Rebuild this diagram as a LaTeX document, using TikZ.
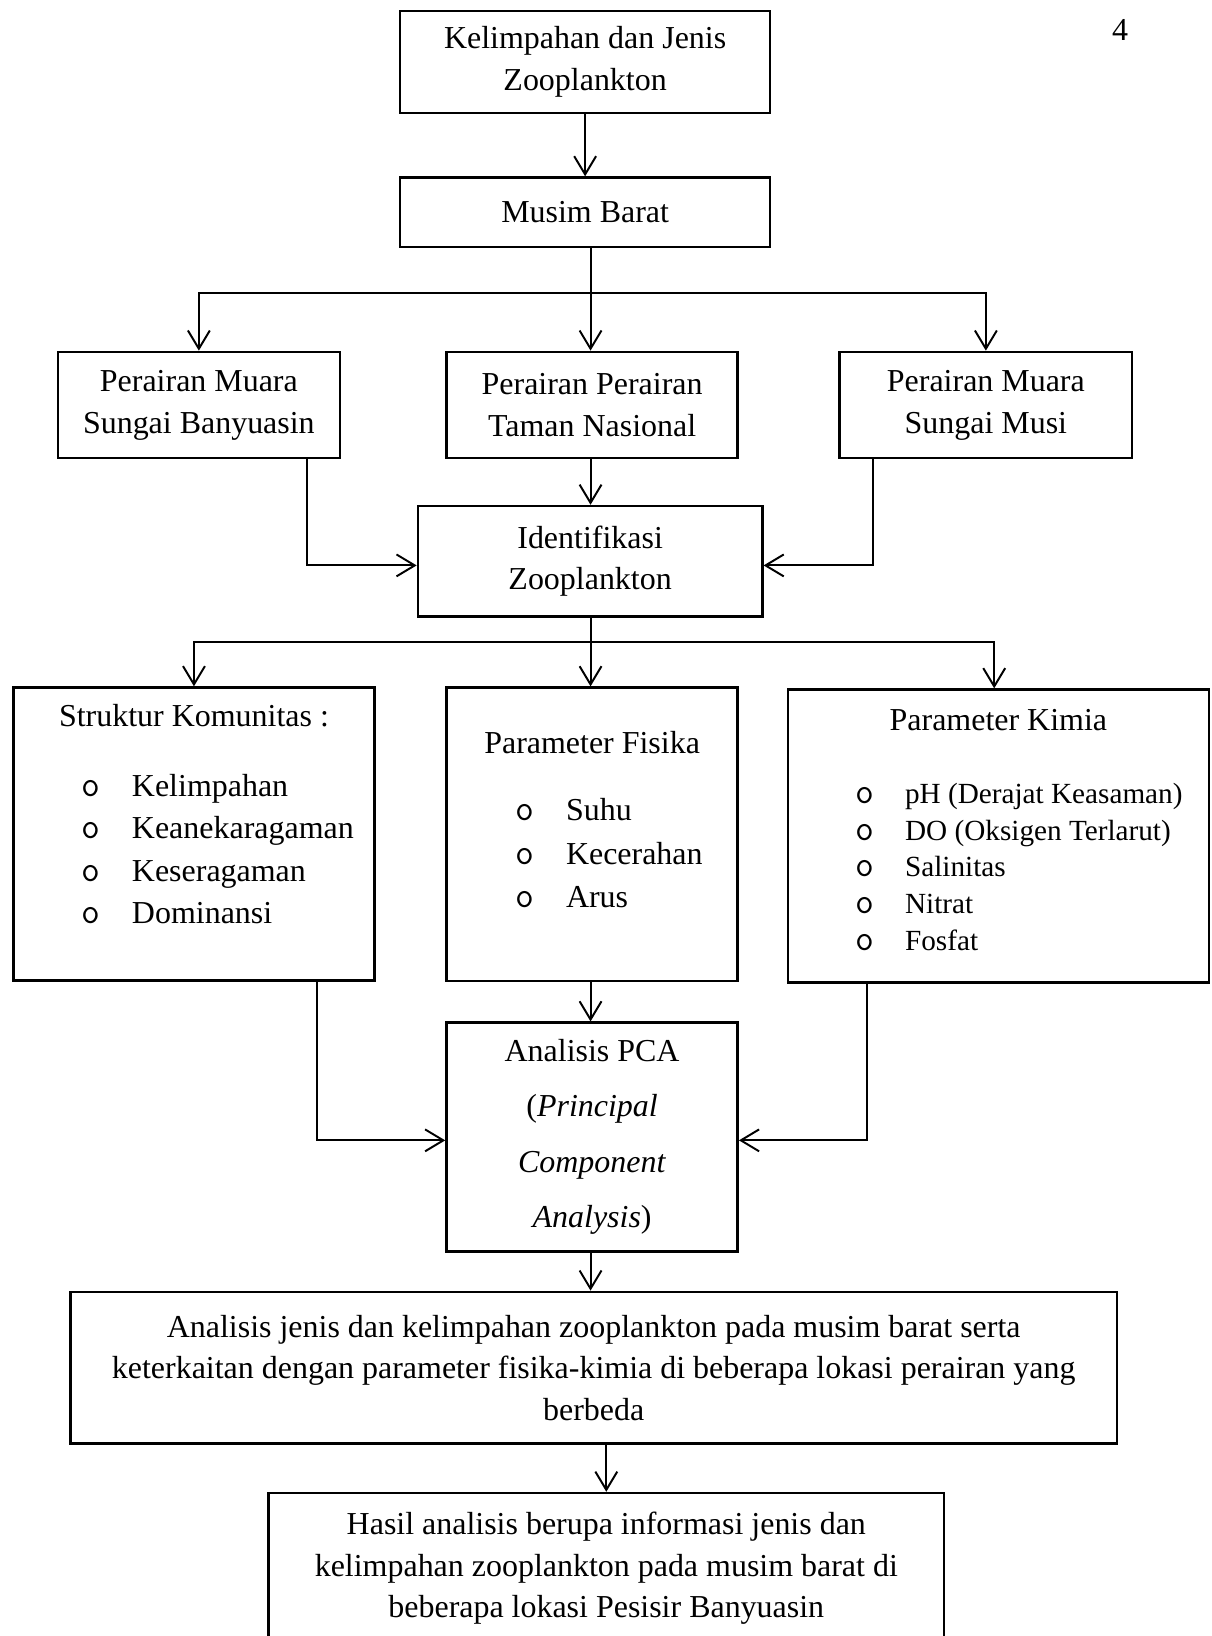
\documentclass[tikz,border=0pt]{standalone}
\usepackage{fontspec}
\setmainfont{Liberation Serif}
\usepackage{tikz}
\usetikzlibrary{arrows.meta}
\newcommand{\bul}{\makebox[19.2pt][l]{\ttfamily\fontsize{14}{14}\selectfont o}}

\begin{document}
\begin{tikzpicture}[x=0.4pt,y=-0.4pt,
        box/.style={draw,line width=1pt,inner sep=0pt,align=center,font=\fontsize{12.25}{16}\selectfont},
        txt/.style={inner sep=0pt,font=\fontsize{12.25}{16}\selectfont},
        lst/.style={inner sep=0pt,anchor=base west},
        conn/.style={line width=0.75pt},
        arr/.style={line width=0.75pt,-{Straight Barb[length=7pt,width=8.4pt]}}]
        \useasboundingbox (0,0) rectangle (1161,1568);
        \node[box,minimum width=141.8pt,minimum height=39.1pt] (b1) at (560.8,59.5) {Kelimpahan dan Jenis\\Zooplankton};
        \node[box,minimum width=141.8pt,minimum height=26.6pt] (b2) at (560.8,203.5) {Musim Barat};
        \node[box,minimum width=108.1pt,minimum height=40.7pt] (b3a) at (190.6,388.2) {Perairan Muara\\Sungai Banyuasin};
        \node[box,minimum width=111.6pt,minimum height=40.7pt] (b3b) at (567.5,388.2) {Perairan Perairan\\Taman Nasional};
        \node[box,minimum width=112.1pt,minimum height=40.7pt] (b3c) at (944.9,388.2) {Perairan Muara\\Sungai Musi};
        \node[box,minimum width=132pt,minimum height=42.3pt] (b4) at (565.6,537.9) {Identifikasi\\Zooplankton};
        \node[box,minimum width=138.5pt,minimum height=112.4pt] (b5a) at (185.9,799.5) {};
        \node[box,minimum width=111.6pt,minimum height=112.5pt] (b5b) at (567.5,799.7) {};
        \node[box,minimum width=161.4pt,minimum height=112.2pt] (b5c) at (956.9,801.2) {};
        \node[box,minimum width=111.6pt,minimum height=87.6pt,font=\fontsize{12.25}{21.2}\selectfont] (b6) at (567.5,1089.7) {Analisis PCA\\(\textit{Principal}\\\textit{Component}\\\textit{Analysis})};
        \node[box,minimum width=401.2pt,minimum height=58.2pt] (b7) at (569,1311) {Analisis jenis dan kelimpahan zooplankton pada musim barat serta\\keterkaitan dengan parameter fisika-kimia di beberapa lokasi perairan yang\\berbeda};
        \node[box,minimum width=258.8pt,minimum height=57.6pt] (b8) at (581.1,1503) {Hasil analisis berupa informasi jenis dan\\kelimpahan zooplankton pada musim barat di\\beberapa lokasi Pesisir Banyuasin};
        \node[txt,anchor=base] (hal) at (1073.5,39) {4};
        \node[txt,anchor=base] (skh) at (185.9,696.6) {Struktur Komunitas :};
        \node[lst,font=\fontsize{12.25}{16.3}\selectfont] (skl) at (78,763) {\begin{tabular}[t]{@{}l@{}}\bul Kelimpahan\\\bul Keanekaragaman\\\bul Keseragaman\\\bul Dominansi\end{tabular}};
        \node[txt,anchor=base] (pfh) at (567.5,722) {Parameter Fisika};
        \node[lst,font=\fontsize{12.25}{16.7}\selectfont] (pfl) at (494,786.5) {\begin{tabular}[t]{@{}l@{}}\bul Suhu\\\bul Kecerahan\\\bul Arus\end{tabular}};
        \node[txt,anchor=base] (pkh) at (956.9,700) {Parameter Kimia};
        \node[lst,font=\fontsize{11.2}{14.1}\selectfont] (pkl) at (819,770) {\begin{tabular}[t]{@{}l@{}}\bul pH (Derajat Keasaman)\\\bul DO (Oksigen Terlarut)\\\bul Salinitas\\\bul Nitrat\\\bul Fosfat\end{tabular}};
        \coordinate (j1) at (566,281);
        \coordinate (j2) at (566,615.5);
        \draw[arr] (b1.south) -- (b2.north);
        \draw[conn] (b2.south -| j1) -- (j1);
        \draw[arr] (j1) -| (b3a.north);
        \draw[arr] (j1) -- (j1 |- b3b.north);
        \draw[arr] (j1) -| (b3c.north);
        \draw[arr] (b3b.south -| j1) -- (b4.north -| j1);
        \draw[arr] ([xshift=41.6pt]b3a.south) |- ([yshift=-1.6pt]b4.west);
        \draw[arr] ([xshift=-43.4pt]b3c.south) |- ([yshift=-1.6pt]b4.east);
        \draw[conn] (b4.south -| j2) -- (j2);
        \draw[arr] (j2) -| (b5a.north);
        \draw[arr] (j2) -- (j2 |- b5b.north);
        \draw[arr] (j2) -| ([xshift=-1.6pt]b5c.north);
        \draw[arr] (b5b.south -| j2) -- (b6.north -| j2);
        \draw[arr] ([xshift=47pt]b5a.south) |- ([yshift=-1.3pt]b6.west);
        \draw[arr] ([xshift=-50.4pt]b5c.south) |- ([yshift=-1.3pt]b6.east);
        \draw[arr] (b6.south -| j2) -- (b7.north -| j2);
        \draw[arr] (b7.south -| b8.north) -- (b8.north);
    \end{tikzpicture}
\end{document}
